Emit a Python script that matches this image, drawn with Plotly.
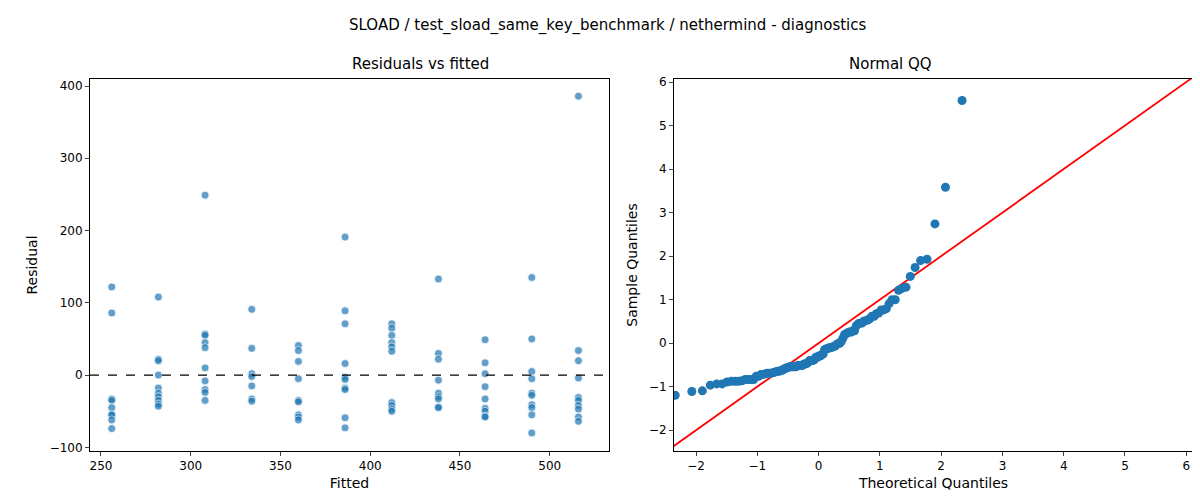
import plotly.graph_objects as go
from statistics import NormalDist
import numpy as np

# residuals grouped by fitted value
fitted_levels = [256, 282, 308, 334, 360, 386, 412, 438, 464, 490, 516]
residual_groups = [
    [122, 86, -33, -35, -45, -55, -55, -62, -74],
    [108, 22, 20, 0, -18, -25, -30, -35, -40, -43],
    [249, 57, 55, 45, 38, 10, -8, -20, -24, -35],
    [91, 37, 2, -2, -15, -33, -36],
    [41, 34, 19, -5, -35, -37, -55, -58, -62],
    [191, 89, 71, 16, -3, -6, -18, -20, -59, -73],
    [71, 65, 55, 45, 39, 33, -38, -42, -47, -50],
    [133, 30, 22, -7, -25, -30, -33, -44, -45],
    [49, 17, 2, -16, -33, -46, -50, -57, -58],
    [135, 50, 5, -5, -25, -28, -41, -45, -55, -80],
    [386, 34, 20, -4, -31, -35, -42, -47, -58, -64],
]

fitted = [f for f, g in zip(fitted_levels, residual_groups) for _ in g]
resid = [r for g in residual_groups for r in g]

# QQ: standardized residuals vs normal quantiles (positions i/(n+1))
r = np.array(resid, dtype=float)
sample_q = np.sort((r - r.mean()) / r.std(ddof=0))
n = len(sample_q)
theo_q = [NormalDist().inv_cdf((i + 1) / (n + 1)) for i in range(n)]

blue = "#1f77b4"
fig = go.Figure()
fig.add_trace(go.Scatter(x=fitted, y=resid, mode="markers", xaxis="x", yaxis="y",
                         marker=dict(size=8, color=blue, opacity=0.7,
                                     line=dict(color="white", width=0.8)),
                         showlegend=False))
fig.add_trace(go.Scatter(x=[243.9, 533], y=[0, 0], mode="lines", xaxis="x", yaxis="y",
                         line=dict(color="black", width=1.2, dash="dash"), showlegend=False))
fig.add_trace(go.Scatter(x=[-2.5, 6.2], y=[-2.5, 6.2], mode="lines", xaxis="x2", yaxis="y2",
                         line=dict(color="red", width=1.8), showlegend=False))
fig.add_trace(go.Scatter(x=theo_q, y=sample_q, mode="markers", xaxis="x2", yaxis="y2",
                         marker=dict(size=9, color=blue), showlegend=False))

ax = dict(showline=True, mirror=True, linecolor="black", linewidth=1, ticks="outside",
          ticklen=4, showgrid=False, zeroline=False, tickfont=dict(size=12),
          automargin=False)
fig.update_layout(
    width=1200, height=500, margin=dict(l=82, r=15, t=71, b=57),
    plot_bgcolor="white", paper_bgcolor="white",
    font=dict(family="DejaVu Sans", color="black", size=12),
    xaxis=dict(ax, domain=[0, 0.4705], range=[243.9, 533], dtick=50,
               title=dict(text="Fitted", standoff=5)),
    yaxis=dict(ax, domain=[0, 1], range=[-105, 409.7], dtick=100,
               title=dict(text="Residual", standoff=8)),
    xaxis2=dict(ax, domain=[0.5295, 1], range=[-2.36, 6.11], dtick=1, anchor="y2",
                title=dict(text="Theoretical Quantiles", standoff=5)),
    yaxis2=dict(ax, domain=[0, 1], range=[-2.48, 6.07], dtick=1, anchor="x2",
                title=dict(text="Sample Quantiles", standoff=8)),
    annotations=[
        dict(text="SLOAD / test_sload_same_key_benchmark / nethermind - diagnostics",
             x=0.5, y=8, xref="paper", yref="paper", showarrow=False,
             font=dict(size=15), yanchor="middle", xanchor="center"),
        dict(text="Residuals vs fitted", x=0.2353, y=1.01, xref="paper", yref="paper",
             showarrow=False, font=dict(size=15), yanchor="bottom"),
        dict(text="Normal QQ", x=0.7648, y=1.01, xref="paper", yref="paper",
             showarrow=False, font=dict(size=15), yanchor="bottom"),
    ],
)
# main title placed in pixel terms: 18px from top -> paper y
fig.layout.annotations[0].y = 1 + (71 - 18) / (500 - 71 - 57)
fig.layout.annotations[0].x = (600 - 82) / (1200 - 82 - 15)
fig.write_html("out.html")
